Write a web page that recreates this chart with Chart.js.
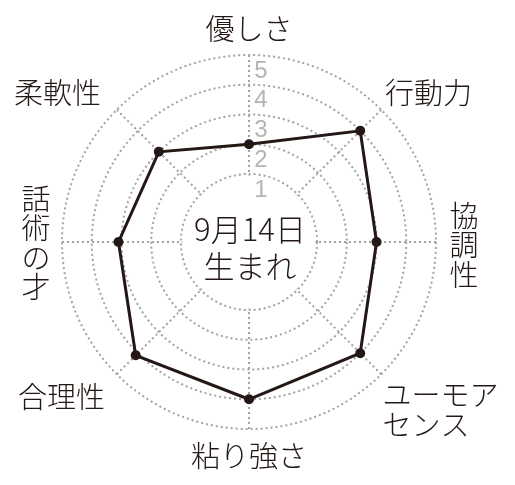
<!DOCTYPE html>
<html lang="ja">
<head>
<meta charset="utf-8">
<script src="https://cdn.jsdelivr.net/npm/chart.js@4.4.1/dist/chart.umd.min.js"></script>
<style>
  html, body { margin: 0; padding: 0; background: #fff; }
  canvas { display: block; }
</style>
</head>
<body>
<canvas id="radar" width="515" height="485"></canvas>
<script>
// axes, clockwise from the top; arrays are multi-line / vertical labels
const categories = ['優しさ', '行動力', ['協', '調', '性'], ['ユーモア', 'センス'], '粘り強さ', '合理性', ['話', '術', 'の', '才'], '柔軟性'];
const scores = [2, 4, 3, 4, 4, 4.1, 3.1, 3];
const tickValues = [1, 2, 3, 4, 5];
const centerLines = ['9月14日', '生まれ'];

const INK = '#231815';
const GRID = '#a3a3a3';
const TICK = '#b4b4b4';
const JP = '"Noto Sans CJK JP", "Noto Sans", sans-serif';

// where each axis label sits, relative to the point LABEL_R out on its spoke
const LABEL_R = 213;
const labelPlace = [
  { dx: 0, dy: 0 },
  { dx: 29, dy: 2 },
  { dx: 2, dy: 3, vertical: true },
  { dx: -17, dy: 17, align: 'left' },
  { dx: 0, dy: 1 },
  { dx: -37, dy: 4 },
  { dx: 0, dy: 1, vertical: true },
  { dx: -41, dy: 2 }
];

const extras = {
  id: 'extras',
  beforeDatasetsDraw(chart) {
    const { ctx } = chart;
    const r = chart.scales.r;
    ctx.save();
    // blank the hub so the spokes start at ring 1
    ctx.fillStyle = '#fff';
    ctx.beginPath();
    ctx.arc(r.xCenter, r.yCenter, r.getDistanceFromCenterForValue(1) - 1.5, 0, Math.PI * 2);
    ctx.fill();

    // ring numbers, just inside each ring and right of the top spoke
    ctx.fillStyle = TICK;
    ctx.font = '24px "Liberation Sans", Arial, sans-serif';
    ctx.textAlign = 'center';
    ctx.textBaseline = 'middle';
    tickValues.forEach(v => {
      const d = r.getDistanceFromCenterForValue(v - 0.54);
      ctx.fillText(String(v), r.xCenter + 12, r.yCenter - d);
    });
    ctx.restore();
  },
  afterDraw(chart) {
    const { ctx } = chart;
    const r = chart.scales.r;
    ctx.save();
    ctx.fillStyle = INK;
    ctx.textBaseline = 'middle';
    ctx.font = '300 29px ' + JP;

    categories.forEach((label, i) => {
      const p = r.getPointPosition(i, LABEL_R);
      const place = labelPlace[i];
      const lines = Array.isArray(label) ? label : [label];
      const pitch = place.vertical ? 29.5 : 30;
      const x = p.x + place.dx;
      const y0 = p.y + place.dy - (lines.length - 1) * pitch / 2;
      ctx.textAlign = place.align || 'center';
      lines.forEach((t, k) => ctx.fillText(t, x, y0 + k * pitch));
    });

    ctx.textAlign = 'center';
    ctx.font = '300 31px ' + JP;
    ctx.fillText(centerLines[0], r.xCenter + 1, r.yCenter - 13);
    ctx.fillText(centerLines[1], r.xCenter + 1, r.yCenter + 24);
    ctx.restore();
  }
};

new Chart(document.getElementById('radar'), {
  type: 'radar',
  data: {
    labels: categories,
    datasets: [{
      data: scores,
      borderColor: INK,
      borderWidth: 3,
      backgroundColor: INK,
      fill: false,
      pointRadius: 5,
      pointBorderWidth: 0,
      pointBackgroundColor: INK,
      pointHoverRadius: 5
    }]
  },
  options: {
    responsive: false,
    animation: false,
    layout: { padding: { left: 62, top: 55, right: 79, bottom: 56 } },
    plugins: { legend: { display: false }, tooltip: { enabled: false } },
    scales: {
      r: {
        min: -1.29,
        max: 5,
        ticks: { display: false, stepSize: 1 },
        pointLabels: { display: false },
        grid: {
          circular: true,
          lineWidth: 2,
          color: (c) => (c.tick && c.tick.value >= 1 ? GRID : 'rgba(0,0,0,0)')
        },
        border: { dash: [2, 3] },
        angleLines: { display: true, color: GRID, lineWidth: 2, borderDash: [2, 3] }
      }
    }
  },
  plugins: [extras]
});
</script>
</body>
</html>
